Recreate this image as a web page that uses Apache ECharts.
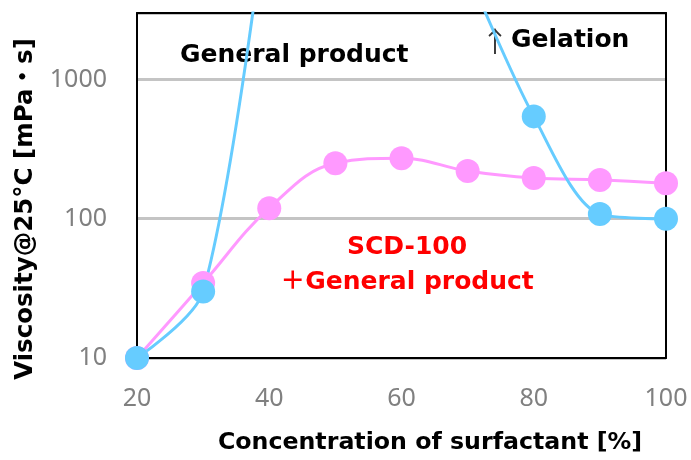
<!DOCTYPE html>
<html lang="en">
<head>
  <meta charset="UTF-8">
  <title>viscosity</title>
  <style>
    html, body { margin: 0; padding: 0; background: #fff; }
    #chart { width: 691px; height: 460px; }
  </style>
</head>
<body>
  <div id="chart"></div>
  <script src="https://cdn.jsdelivr.net/npm/echarts@6/dist/echarts.min.js"></script>
  <script>
    // surfactant concentration [%]
    var concentration = [20, 30, 40, 50, 60, 70, 80, 90, 100];
    // SCD-100 + general product
    var scdViscosity = [10, 34.5, 119, 250, 272, 220, 196, 190, 180];
    // general product (40 and 70 are past the top of the chart -> gelation)
    var generalViscosity = [10, 30, 25000, null, null, 6000, 543, 108, 100];

    var yTicks = [10, 100, 1000];
    var yMax = 3000;
    var xTicks = [20, 40, 60, 80, 100];

    var font = '"Noto Sans", "Noto Sans CJK JP", sans-serif';
    var boldFont = '"DejaVu Sans", "Noto Sans CJK JP", sans-serif';

    function pairs(vals) {
      return concentration.map(function (c, i) {
        var v = vals[i];
        if (v == null) return [c, '-'];
        if (v > yMax) return { value: [c, v], symbol: 'none' };
        return [c, v];
      });
    }

    var frameLine = { show: true, onZero: false, lineStyle: { color: '#000', width: 2 } };

    var myChart = echarts.init(document.getElementById('chart'));
    myChart.setOption({
      animation: false,
      grid: { left: 137, right: 25, top: 13, bottom: 102 },
      xAxis: [{
        type: 'value',
        min: 20, max: 100, interval: 20,
        axisLine: frameLine,
        axisTick: { show: false },
        splitLine: { show: false },
        axisLabel: {
          color: '#808080', fontSize: 25, fontFamily: font, margin: 28,
          formatter: function (v) { return xTicks.indexOf(v) >= 0 ? v : ''; }
        }
      }, {
        // top frame edge
        type: 'value', position: 'top',
        min: 20, max: 100, interval: 20,
        axisLine: frameLine, axisTick: { show: false },
        axisLabel: { show: false }, splitLine: { show: false }
      }],
      yAxis: [{
        type: 'log',
        logBase: 10,
        min: 10, max: yMax,
        axisLine: frameLine,
        axisTick: { show: false },
        splitLine: { lineStyle: { color: '#c4c4c4', width: 3 } },
        axisLabel: {
          color: '#808080', fontSize: 25, fontFamily: font, margin: 30,
          formatter: function (v) { return yTicks.indexOf(Math.round(v)) >= 0 ? Math.round(v) : ''; }
        }
      }, {
        // right frame edge
        type: 'log', logBase: 10, position: 'right',
        min: 10, max: yMax,
        axisLine: frameLine, axisTick: { show: false },
        axisLabel: { show: false }, splitLine: { show: false }
      }],
      series: [{
        name: 'SCD-100 +General product',
        type: 'line',
        smooth: 0.4,
        data: pairs(scdViscosity),
        symbol: 'circle',
        symbolSize: 24,
        itemStyle: { color: '#ff99ff' },
        lineStyle: { color: '#ff99ff', width: 3 }
      }, {
        name: 'General product',
        type: 'line',
        smooth: 0.3,
        data: pairs(generalViscosity),
        symbol: 'circle',
        symbolSize: 24,
        itemStyle: { color: '#66ccff' },
        lineStyle: { color: '#66ccff', width: 3 }
      }],
      graphic: [{
        type: 'text', x: 180, y: 55,
        style: { text: 'General product', fill: '#000', font: 'bold 25px ' + boldFont, verticalAlign: 'middle' }
      }, {
        type: 'text', x: 495, y: 41, z: -1,
        style: { text: '↑', fill: '#333', font: 'normal 28px "Noto Sans CJK JP", sans-serif', align: 'center', verticalAlign: 'middle' }
      }, {
        type: 'text', x: 511, y: 40,
        style: { text: 'Gelation', fill: '#000', font: 'bold 25px ' + boldFont, verticalAlign: 'middle' }
      }, {
        type: 'text', x: 407, y: 247,
        style: { text: 'SCD-100', fill: '#ff0000', font: 'bold 25px ' + boldFont, align: 'center', verticalAlign: 'middle' }
      }, {
        type: 'text', x: 407, y: 282,
        style: { text: '＋General product', fill: '#ff0000', font: 'bold 25px ' + boldFont, align: 'center', verticalAlign: 'middle' }
      }, {
        type: 'text', x: 430, y: 443,
        style: { text: 'Concentration of surfactant [%]', fill: '#000', font: 'bold 23.7px ' + boldFont, align: 'center', verticalAlign: 'middle' }
      }, {
        type: 'text', x: 26, y: 209, rotation: Math.PI / 2,
        style: { text: 'Viscosity@25°C [mPa・s]', fill: '#000', font: 'bold 24.5px ' + boldFont, align: 'center', verticalAlign: 'middle' }
      }]
    });
  </script>
</body>
</html>
